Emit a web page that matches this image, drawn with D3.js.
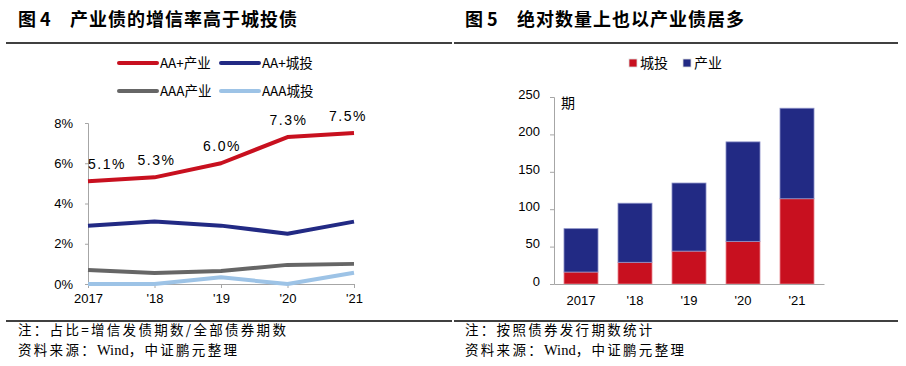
<!DOCTYPE html>
<html><head><meta charset="utf-8">
<script src="https://cdn.jsdelivr.net/npm/d3@7"></script>
<style>
body{margin:0;background:#fff;}
svg{display:block;}
.cjk{font-family:"Noto Sans CJK SC","Noto Sans",sans-serif;}
.num{font-family:"Liberation Sans",Arial,sans-serif;}
</style></head>
<body><svg id="c" width="906" height="366"></svg>
<script>
// ---- data ----
const years = ["2017", "'18", "'19", "'20", "'21"];
const aaIndustry = [5.1, 5.3, 6.0, 7.3, 7.5];
const aaCity = [2.9, 3.1, 2.9, 2.5, 3.1];
const aaaIndustry = [0.7, 0.55, 0.65, 0.95, 1.0];
const aaaCity = [0, 0, 0.33, 0, 0.56];
const leftTicks = [0, 2, 4, 6, 8];
const leftSeriesNames = ["AA+产业", "AA+城投", "AAA产业", "AAA城投"];
const cityCount = [16, 29, 44, 57, 114];
const industryCount = [58, 79, 91, 133, 121];
const rightTicks = [0, 50, 100, 150, 200, 250];
const rightSeriesNames = ["城投", "产业"];

const svg = d3.select("#c");
const colors = {red:"#c8101f", blue:"#222a84", gray:"#666666", lblue:"#9dc3e6"};

// ---- titles and rules ----
function panelText(x0, fig, title, note){
  svg.append("text").attr("x", x0).attr("y", 26).attr("class","cjk")
    .attr("font-size", 18).attr("font-weight", "bold").text(fig);
  svg.append("text").attr("x", x0+52).attr("y", 26).attr("class","cjk")
    .attr("font-size", 18).attr("font-weight", "bold").attr("letter-spacing", 1).text(title);
  svg.append("text").attr("x", x0).attr("y", 334.5).attr("class","cjk")
    .attr("font-size", 13.5).attr("letter-spacing", 2.3).text(note);
  const s = svg.append("text").attr("x", x0).attr("y", 354.5).attr("class","cjk").attr("font-size", 13.5).attr("letter-spacing", 2.3);
  s.append("tspan").text("资料来源：");
  s.append("tspan").attr("font-family","'Liberation Serif','Times New Roman',serif").attr("font-size",14.5).attr("letter-spacing",0).text("Wind");
  s.append("tspan").text("，中证鹏元整理");
}
panelText(18, "图 4", "产业债的增信率高于城投债", "注：占比=增信发债期数/全部债券期数");
panelText(465, "图 5", "绝对数量上也以产业债居多", "注：按照债券发行期数统计");
[[6,452],[454,898]].forEach(([a,b])=>{
  svg.append("line").attr("x1",a).attr("x2",b).attr("y1",43).attr("y2",43).attr("stroke","#000").attr("stroke-width",1.5);
  svg.append("line").attr("x1",a).attr("x2",b).attr("y1",321).attr("y2",321).attr("stroke","#000").attr("stroke-width",1.5);
});

// ---- left line chart ----
const xL = d3.scalePoint().domain(years).range([88, 354]);
const yL = d3.scaleLinear().domain([0, 8]).range([284, 123]);
const gL = svg.append("g");
const yAxisL = gL.append("g").attr("transform","translate(88,0)")
  .call(d3.axisLeft(yL).tickValues(leftTicks).tickFormat(d=>d+"%").tickSize(3).tickPadding(12));
const xAxisL = gL.append("g").attr("transform","translate(0,284)")
  .call(d3.axisBottom(xL).tickSize(4).tickPadding(6));
[yAxisL, xAxisL].forEach(a=>{
  a.select(".domain").attr("stroke","#a6a6a6");
  a.selectAll(".tick line").attr("stroke","#a6a6a6");
  a.selectAll("text").attr("class","num").attr("font-size",13).attr("fill","#000");
});
xAxisL.select(".tick line").remove();

const seriesL = [
  {name:leftSeriesNames[3], vals:aaaCity, color:colors.lblue},
  {name:leftSeriesNames[2], vals:aaaIndustry, color:colors.gray},
  {name:leftSeriesNames[1], vals:aaCity, color:colors.blue},
  {name:leftSeriesNames[0], vals:aaIndustry, color:colors.red}
];
const line = d3.line().x((d,i)=>xL(years[i])).y(d=>yL(d));
seriesL.forEach(s=>{
  gL.append("path").datum(s.vals).attr("d", line).attr("fill","none")
    .attr("stroke", s.color).attr("stroke-width", 4).attr("stroke-linejoin","round");
});
const labelDx = [19, 2, 1, 1, -6];
aaIndustry.forEach((v,i)=>{
  gL.append("text").attr("class","num").attr("font-size",14).attr("letter-spacing",1.5)
    .attr("text-anchor","middle").attr("x", xL(years[i])+labelDx[i]).attr("y", yL(v)-12)
    .text(v.toFixed(1)+"%");
});
// legend
const legL = [
  {name:leftSeriesNames[0], color:colors.red, x:119, y:63},
  {name:leftSeriesNames[1], color:colors.blue, x:221, y:63},
  {name:leftSeriesNames[2], color:colors.gray, x:119, y:91},
  {name:leftSeriesNames[3], color:colors.lblue, x:221, y:91}
];
legL.forEach(l=>{
  svg.append("line").attr("x1",l.x).attr("x2",l.x+38).attr("y1",l.y).attr("y2",l.y)
    .attr("stroke",l.color).attr("stroke-width",4).attr("stroke-linecap","round");
  svg.append("text").attr("x",l.x+41).attr("y",l.y+5).attr("class","cjk").attr("font-size",13.5).text(l.name);
});

// ---- right bar chart ----
const xR = d3.scaleBand().domain(years).range([554, 824]).paddingInner(0.37).paddingOuter(0.185);
const yR = d3.scaleLinear().domain([0, 250]).range([284, 97]);
const gR = svg.append("g");
const stackData = years.map((y,i)=>({year:y, city:cityCount[i], industry:industryCount[i]}));
const stack = d3.stack().keys(["city","industry"])(stackData);
const barColors = {city:colors.red, industry:colors.blue};
const strokeColors = {city:"#e98a93", industry:"#8d92c8"};
stack.forEach(layer=>{
  gR.selectAll(null).data(layer).enter().append("rect")
    .attr("x", d=>xR(d.data.year)).attr("width", xR.bandwidth())
    .attr("y", d=>yR(d[1])).attr("height", d=>yR(d[0])-yR(d[1]))
    .attr("fill", barColors[layer.key]).attr("stroke", strokeColors[layer.key]).attr("stroke-width",0.8);
});
const yAxisR = gR.append("g").attr("transform","translate(554,0)")
  .call(d3.axisLeft(yR).tickValues(rightTicks).tickSize(4).tickPadding(10));
const xAxisR = gR.append("g").attr("transform","translate(0,284)")
  .call(d3.axisBottom(xR).tickSize(0).tickPadding(12));
[yAxisR, xAxisR].forEach(a=>{
  a.select(".domain").attr("stroke","#a6a6a6");
  a.selectAll(".tick line").attr("stroke","#a6a6a6");
  a.selectAll("text").attr("class","num").attr("font-size",13).attr("fill","#000");
});
yAxisR.selectAll(".tick text").attr("dy","0.1em");
svg.append("text").attr("x",561).attr("y",108).attr("class","cjk").attr("font-size",14).text("期");
// legend
[{name:rightSeriesNames[0], color:colors.red, x:629},{name:rightSeriesNames[1], color:colors.blue, x:683}].forEach(l=>{
  svg.append("rect").attr("x",l.x).attr("y",59).attr("width",8).attr("height",8).attr("fill",l.color)
    .attr("stroke","#ddd").attr("stroke-width",0.8);
  svg.append("text").attr("x",l.x+11).attr("y",68).attr("class","cjk").attr("font-size",14).text(l.name);
});
</script></body></html>
